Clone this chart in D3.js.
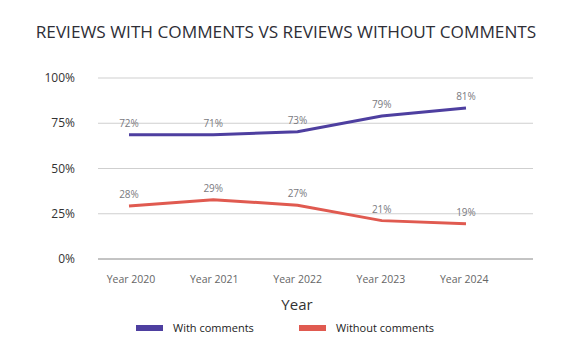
<!DOCTYPE html>
<html>
<head>
<meta charset="utf-8">
<script src="https://cdn.jsdelivr.net/npm/d3@7"></script>
<style>
  body { margin: 0; background: #fff; }
  text { font-family: "Open Sans", sans-serif; }
</style>
</head>
<body>
<div id="chart"></div>
<script>
var years = ["Year 2020", "Year 2021", "Year 2022", "Year 2023", "Year 2024"];
// plotted line values (as drawn) and the printed labels
var withComments = [68.7, 68.7, 70.3, 79, 83.4];
var withoutComments = [29.3, 32.8, 29.7, 21.2, 19.5];
var withLabels = ["72%", "71%", "73%", "79%", "81%"];
var withoutLabels = ["28%", "29%", "27%", "21%", "19%"];
var yTicks = [0, 25, 50, 75, 100];

var width = 564, height = 353;
var svg = d3.select("#chart").append("svg")
  .attr("width", width).attr("height", height);

var x = d3.scalePoint().domain(years).range([129, 466]);
var y = d3.scaleLinear().domain([0, 100]).range([259, 78]);

svg.append("text")
  .attr("x", 286).attr("y", 38)
  .attr("text-anchor", "middle")
  .style("font-size", "17.2px")
  .style("fill", "#2e2e36")
  .text("REVIEWS WITH COMMENTS VS REVIEWS WITHOUT COMMENTS");

// grid
svg.append("g").selectAll("line")
  .data(yTicks)
  .enter().append("line")
  .attr("x1", 98).attr("x2", 533)
  .attr("y1", function (d) { return y(d); })
  .attr("y2", function (d) { return y(d); })
  .attr("stroke", function (d) { return d === 0 ? "#888" : "#cfcfcf"; })
  .attr("stroke-width", 1);

svg.append("g").selectAll("text")
  .data(yTicks)
  .enter().append("text")
  .attr("x", 75)
  .attr("y", function (d) { return y(d) + 4; })
  .attr("text-anchor", "end")
  .style("font-size", "12px")
  .style("fill", "#333")
  .text(function (d) { return d + "%"; });

svg.append("g").selectAll("text")
  .data(years)
  .enter().append("text")
  .attr("x", function (d, i) { return 131 + i * 83.3; })
  .attr("y", 283)
  .attr("text-anchor", "middle")
  .style("font-size", "10.5px")
  .style("fill", "#666")
  .text(function (d) { return d; });

svg.append("text")
  .attr("x", 297).attr("y", 310)
  .attr("text-anchor", "middle")
  .style("font-size", "15px")
  .style("fill", "#333")
  .text("Year");

var line = d3.line()
  .x(function (d, i) { return x(years[i]); })
  .y(function (d) { return y(d); });

var series = [
  { values: withComments, labels: withLabels, color: "#4e3fa0", name: "With comments" },
  { values: withoutComments, labels: withoutLabels, color: "#e05a50", name: "Without comments" }
];

series.forEach(function (s) {
  svg.append("path")
    .datum(s.values)
    .attr("d", line)
    .attr("fill", "none")
    .attr("stroke", s.color)
    .attr("stroke-width", 3);

  svg.append("g").selectAll("text")
    .data(s.values)
    .enter().append("text")
    .attr("x", function (d, i) { return x(years[i]); })
    .attr("y", function (d) { return y(d) - 8; })
    .attr("text-anchor", "middle")
    .style("font-size", "10px")
    .style("fill", "#7a7a80")
    .text(function (d, i) { return s.labels[i]; });
});

// legend
var legend = svg.append("g").selectAll("g")
  .data(series)
  .enter().append("g")
  .attr("transform", function (d, i) { return "translate(" + (136 + i * 163) + ",325)"; });

legend.append("rect")
  .attr("width", 27).attr("height", 6)
  .attr("fill", function (d) { return d.color; });

legend.append("text")
  .attr("x", 37).attr("y", 7)
  .style("font-size", "11px")
  .style("fill", "#222")
  .text(function (d) { return d.name; });
</script>
</body>
</html>
